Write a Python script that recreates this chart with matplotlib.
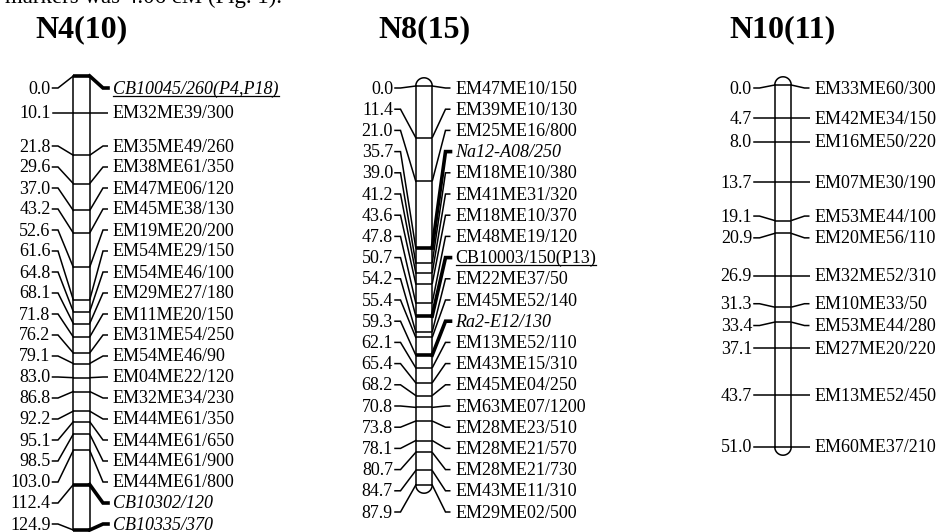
import matplotlib
matplotlib.use("Agg")
import matplotlib.pyplot as plt
import numpy as np

# ---------------- data ----------------
n4_title = "N4(10)"
n4_pos = [0.0, 10.1, 21.8, 29.6, 37.0, 43.2, 52.6, 61.6, 64.8, 68.1, 71.8,
          76.2, 79.1, 83.0, 86.8, 92.2, 95.1, 98.5, 103.0, 112.4, 124.9]
n4_names = ["CB10045/260(P4,P18)", "EM32ME39/300", "EM35ME49/260", "EM38ME61/350",
            "EM47ME06/120", "EM45ME38/130", "EM19ME20/200", "EM54ME29/150",
            "EM54ME46/100", "EM29ME27/180", "EM11ME20/150", "EM31ME54/250",
            "EM54ME46/90", "EM04ME22/120", "EM32ME34/230", "EM44ME61/350",
            "EM44ME61/650", "EM44ME61/900", "EM44ME61/800", "CB10302/120",
            "CB10335/370"]

n8_title = "N8(15)"
n8_pos = [0.0, 11.4, 21.0, 35.7, 39.0, 41.2, 43.6, 47.8, 50.7, 54.2, 55.4,
          59.3, 62.1, 65.4, 68.2, 70.8, 73.8, 78.1, 80.7, 84.7, 87.9]
n8_names = ["EM47ME10/150", "EM39ME10/130", "EM25ME16/800", "Na12-A08/250",
            "EM18ME10/380", "EM41ME31/320", "EM18ME10/370", "EM48ME19/120",
            "CB10003/150(P13)", "EM22ME37/50", "EM45ME52/140", "Ra2-E12/130",
            "EM13ME52/110", "EM43ME15/310", "EM45ME04/250", "EM63ME07/1200",
            "EM28ME23/510", "EM28ME21/570", "EM28ME21/730", "EM43ME11/310",
            "EM29ME02/500"]

n10_title = "N10(11)"
n10_pos = [0.0, 4.7, 8.0, 13.7, 19.1, 20.9, 26.9, 31.3, 33.4, 37.1, 43.7, 51.0]
n10_names = ["EM33ME60/300", "EM42ME34/150", "EM16ME50/220", "EM07ME30/190",
             "EM53ME44/100", "EM20ME56/110", "EM32ME52/310", "EM10ME33/50",
             "EM53ME44/280", "EM27ME20/220", "EM13ME52/450", "EM60ME37/210"]

# marker groups (anchored / candidate-gene markers)
highlight = {"CB10045/260(P4,P18)", "CB10302/120", "CB10335/370",
             "Na12-A08/250", "CB10003/150(P13)", "Ra2-E12/130"}
italic_set = {"CB10045/260(P4,P18)", "CB10302/120", "CB10335/370",
              "Na12-A08/250", "Ra2-E12/130"}
underline_set = {"CB10045/260(P4,P18)", "CB10003/150(P13)"}

caption = "markers was 4.06 cM (Fig. 1)."

# ---------------- layout ----------------
W, H = 940, 532
DPI = 100
SERIF = "Liberation Serif"
FS = 13
HW = 8.2         # bar half width (px)

chroms = [
    dict(title=n4_title, pos=n4_pos, names=n4_names, cx=81.5, top=76, bot=530,
         caps=False, gap=21.0, lab_lo=88, lab_hi=524),
    dict(title=n8_title, pos=n8_pos, names=n8_names, cx=424, top=86, bot=485,
         caps=True, gap=21.2, lab_lo=88, lab_hi=512),
    dict(title=n10_title, pos=n10_pos, names=n10_names, cx=783, top=85, bot=447,
         caps=True, gap=21.8, lab_lo=88, lab_hi=500),
]


def spread(desired, gap, lo, hi):
    clusters = [[i] for i in range(len(desired))]

    def place(cl):
        m = np.mean([desired[i] - k * gap for k, i in enumerate(cl)])
        m = min(m, hi - (len(cl) - 1) * gap)
        m = max(m, lo)
        return m

    starts = [place(c) for c in clusters]
    while True:
        merged = False
        for j in range(len(clusters) - 1):
            end_j = starts[j] + (len(clusters[j]) - 1) * gap
            if starts[j + 1] - end_j < gap - 1e-9:
                clusters[j] = clusters[j] + clusters[j + 1]
                del clusters[j + 1]
                starts = [place(c) for c in clusters]
                merged = True
                break
        if not merged:
            break
    out = [0.0] * len(desired)
    for s, cl in zip(starts, clusters):
        for k, i in enumerate(cl):
            out[i] = s + k * gap
    return out


fig = plt.figure(figsize=(W / DPI, H / DPI), dpi=DPI)
fig.patch.set_facecolor("white")

underline_texts = []

for ch in chroms:
    pos = np.array(ch["pos"])
    L = pos[-1]
    s = (ch["bot"] - ch["top"]) / L          # px per cM
    ax = fig.add_axes([0, 0, 1, 1])
    ax.set_xlim(0, W)
    ax.set_ylim((H - ch["top"]) / s, (0 - ch["top"]) / s)
    ax.axis("off")
    ax.patch.set_alpha(0)
    cx = ch["cx"]
    px = 1.0 / s   # one pixel in cM

    # bar body
    ax.fill_between([cx - HW, cx + HW], [0, 0], [L, L], color="white", zorder=1)
    if ch["caps"]:
        t = np.linspace(0, np.pi, 60)
        ax.fill(cx + HW * np.cos(t), 0 - HW * np.sin(t) * px, color="white", zorder=1)
        ax.plot(cx + HW * np.cos(t), 0 - HW * np.sin(t) * px, color="black", lw=1.1, zorder=3)
        ax.fill(cx + HW * np.cos(t), L + HW * np.sin(t) * px, color="white", zorder=1)
        ax.plot(cx + HW * np.cos(t), L + HW * np.sin(t) * px, color="black", lw=1.1, zorder=3)
    ax.plot([cx - HW, cx - HW], [0, L], color="black", lw=1.1, zorder=3)
    ax.plot([cx + HW, cx + HW], [0, L], color="black", lw=1.1, zorder=3)

    # label positions
    desired_px = ch["top"] + pos * s
    lab_px = spread(list(desired_px), ch["gap"], ch["lab_lo"], ch["lab_hi"])
    lab = (np.array(lab_px) - ch["top"]) / s

    for p, ly, name in zip(pos, lab, ch["names"]):
        hl = name in highlight
        lw_in = 2.6 if hl else 1.1
        ax.plot([cx - HW, cx + HW], [p, p], color="black", lw=lw_in, zorder=4,
                solid_capstyle="butt")
        # left connector
        ax.plot([cx - 29, cx - 23.5, cx - HW], [ly, ly, p], color="black", lw=1.1,
                zorder=2, solid_joinstyle="miter")
        # right connector
        ax.plot([cx + HW, cx + 21.5, cx + 26.5], [p, ly, ly], color="black",
                lw=2.6 if hl else 1.1, zorder=2, solid_joinstyle="miter",
                solid_capstyle="projecting" if hl else "butt")
        # numbers
        ax.text(cx - 31, ly + 5.5 * px, f"{p:.1f}", ha="right", va="baseline",
                fontsize=FS, family=SERIF, color="black")
        t = ax.text(cx + 31.5, ly + 5.5 * px, name, ha="left", va="baseline",
                    fontsize=FS, family=SERIF, color="black",
                    style="italic" if name in italic_set else "normal")
        if name in underline_set:
            underline_texts.append((ax, t, ly + 7.5 * px))

    ax.text(cx, (37 - ch["top"]) * px, ch["title"], ha="center", va="baseline",
            fontsize=23, fontweight="bold", family=SERIF, color="black")

fig.text(282 / W, 1 - 3 / H, caption, ha="right", va="baseline", fontsize=16.5,
         family=SERIF, color="black")

fig.canvas.draw()
r = fig.canvas.get_renderer()
for ax, t, yline in underline_texts:
    bb = t.get_window_extent(r)
    inv = ax.transData.inverted()
    x0 = inv.transform((bb.x0, 0))[0]
    x1 = inv.transform((bb.x1, 0))[0]
    ax.plot([x0, x1], [yline, yline], color="black", lw=0.9, zorder=5)

fig.savefig("out.png", dpi=DPI, facecolor="white")
